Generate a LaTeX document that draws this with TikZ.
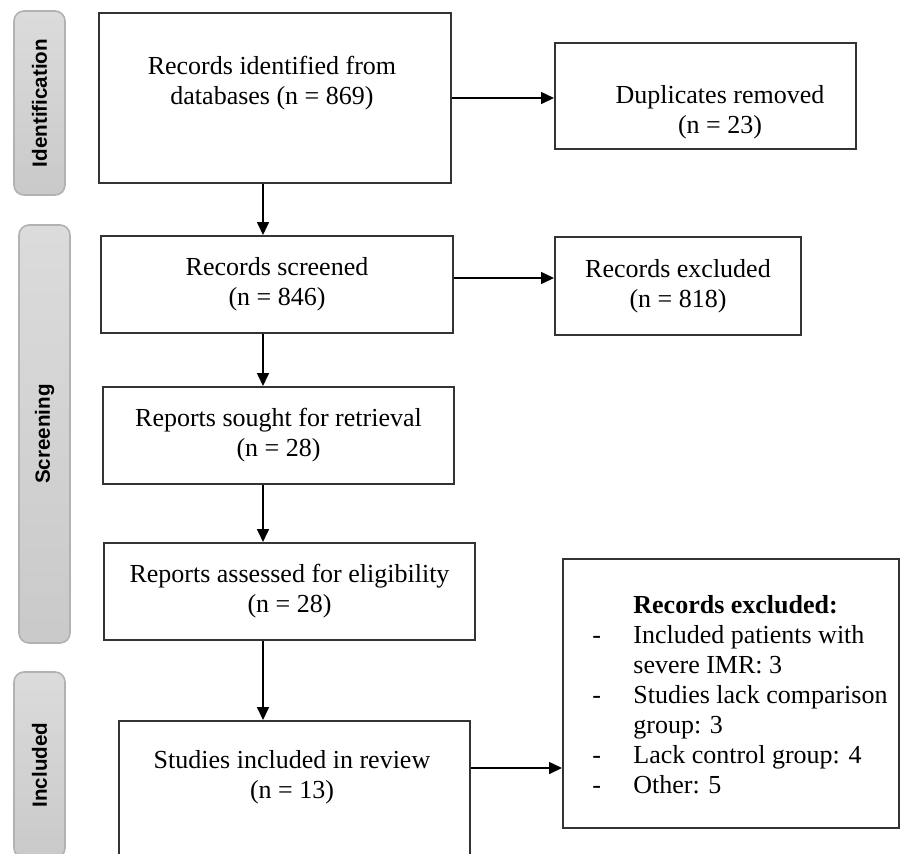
\documentclass[tikz,border=0pt]{standalone}
\usepackage{fontspec}
\setmainfont{Liberation Serif}
\newfontfamily\phasefont{Liberation Sans}
\usetikzlibrary{arrows.meta,positioning}

\newcommand{\dashitem}{\makebox[20.5pt][l]{-}}

\begin{document}
\begin{tikzpicture}[
    x=0.5pt, y=-0.5pt,
    box/.style={rectangle, draw=black!80, line width=1pt, inner sep=0pt},
    txt/.style={align=center, inner sep=0pt, font=\fontsize{13}{15}\selectfont},
    textbox/.style={box, txt},
    phase/.style={rectangle, rounded corners=5pt, draw=gray!60, top color=gray!28, bottom color=gray!42,
        line width=0.8pt, rotate=90, minimum height=25.5pt,
        font=\phasefont\bfseries\fontsize{10.3}{12}\selectfont},
    arr/.style={-{Triangle[length=6.5pt, width=6pt]}, line width=0.8pt}
]
    \useasboundingbox (0,0) rectangle (901,853);

    % Phase bars on the left
    \node[phase, minimum width=92pt] (pident) at (39.5,103) {Identification};
    \node[phase, minimum width=209pt] (pscreen) at (44.5,434) {Screening};
    \node[phase, minimum width=93pt] (pincl) at (39.5,765) {Included};

    % Main column
    \coordinate (spine) at (263,0);
    \node[box, minimum width=176pt, minimum height=85pt] (ident) at (275,98) {};
    \node[txt] (identtxt) at (272,83) {Records identified from\\databases (n = 869)};
    \node[textbox, minimum width=176pt, minimum height=48.5pt] (screened) at (277,284.5)
        {Records screened\\(n = 846)};
    \node[textbox, minimum width=175.5pt, minimum height=48.5pt] (sought) at (278.5,435.5)
        {Reports sought for retrieval\\(n = 28)};
    \node[textbox, minimum width=185.5pt, minimum height=48.5pt] (assessed) at (289.5,591.5)
        {Reports assessed for eligibility\\(n = 28)};
    \node[box, minimum width=175.5pt, minimum height=80pt] (included) at (294.5,801) {};
    \node[txt] (incltxt) at (292,777) {Studies included in review\\(n = 13)};

    % Right column
    \node[box, minimum width=150.5pt, minimum height=53pt] (dup) at (705.5,96) {};
    \node[txt] (duptxt) at (720,112) {Duplicates removed\\(n = 23)};
    \node[textbox, minimum width=123pt, minimum height=49pt] (excluded) at (678,286)
        {Records excluded\\(n = 818)};
    \node[box, minimum width=168pt, minimum height=134.5pt] (reasons) at (731,693.5) {};
    \node[txt, align=left, anchor=west] (reasonstxt) at (592,695) {%
        \hspace*{20.5pt}\textbf{Records excluded:}\\
        \dashitem Included patients with\\
        \hspace*{20.5pt}severe IMR: 3\\
        \dashitem Studies lack comparison\\
        \hspace*{20.5pt}group: 3\\
        \dashitem Lack control group: 4\\
        \dashitem Other: 5};

    % Arrows
    \draw[arr] (ident.south -| spine) -- (screened.north -| spine);
    \draw[arr] (screened.south -| spine) -- (sought.north -| spine);
    \draw[arr] (sought.south -| spine) -- (assessed.north -| spine);
    \draw[arr] (assessed.south -| spine) -- (included.north -| spine);
    \draw[arr] (ident.east) -- (ident.east -| dup.west);
    \draw[arr] ([yshift=3.25pt]screened.east) -- ([yshift=3.25pt]screened.east -| excluded.west);
    \draw[arr] ([yshift=-24pt]included.north east) -- ([yshift=-24pt]included.north east -| reasons.west);
\end{tikzpicture}
\end{document}
